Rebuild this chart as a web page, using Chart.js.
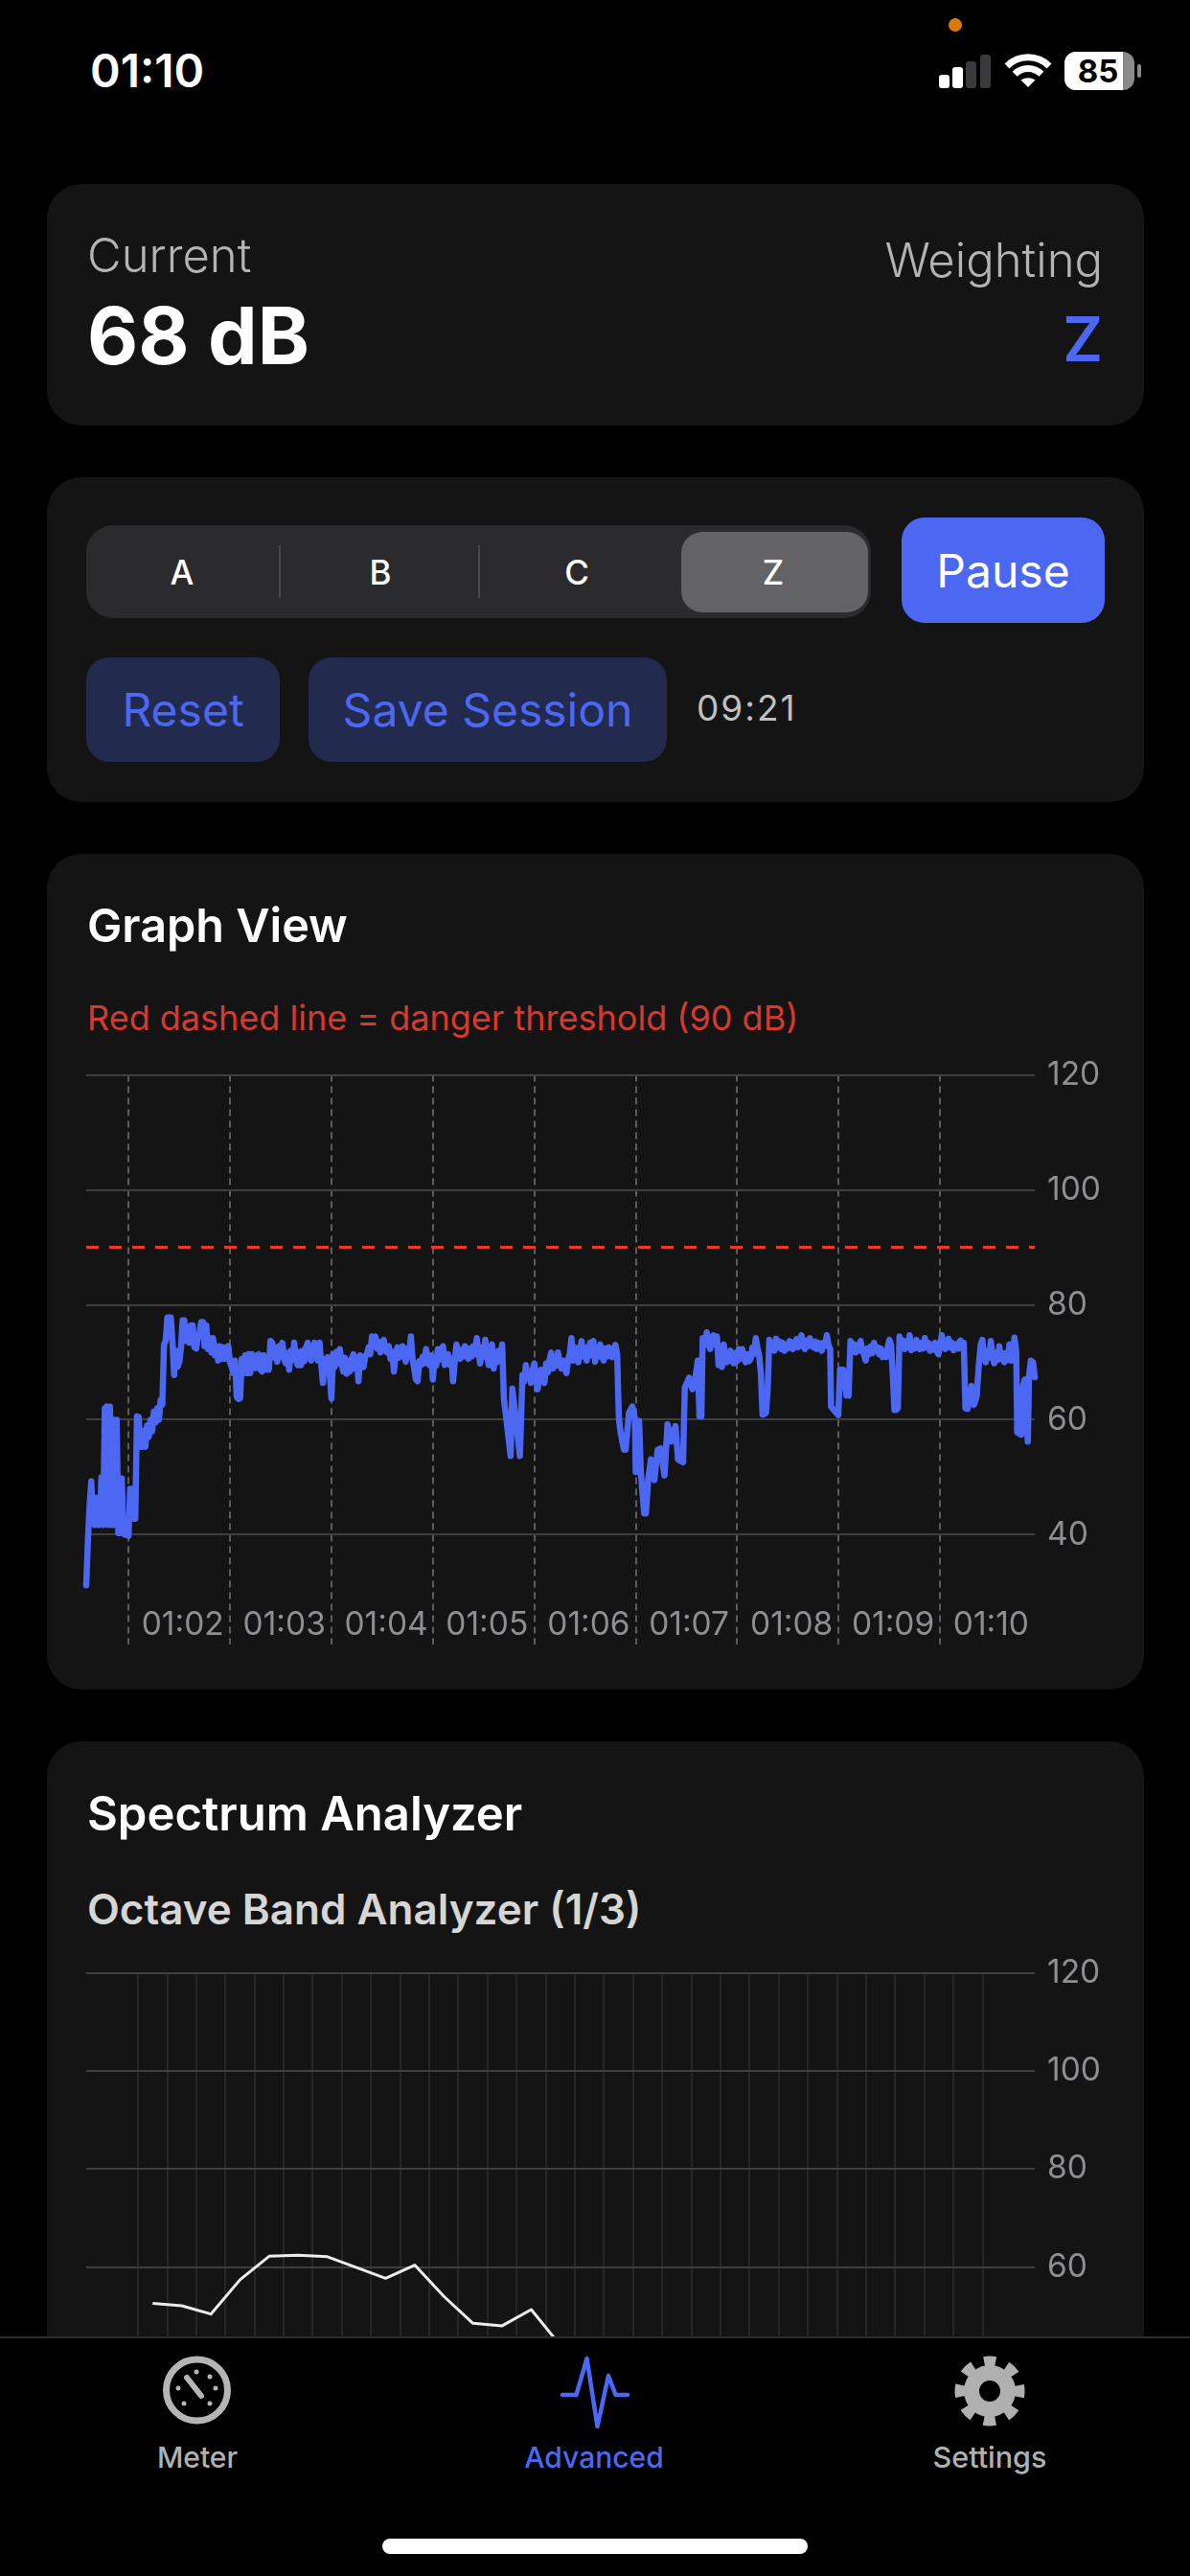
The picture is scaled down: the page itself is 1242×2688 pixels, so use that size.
<!DOCTYPE html>
<html>
<head>
<meta charset="utf-8">
<title>Advanced</title>
<script src="https://cdn.jsdelivr.net/npm/chart.js@4"></script>
<style>
  html, body { margin: 0; padding: 0; background: #000; }
  body { position: relative; width: 1242px; height: 2688px; overflow: hidden; font-family: Inter, "Noto Sans", sans-serif; color: #fff; }
  .card { position: absolute; left: 49px; width: 1145px; background: #141414; border-radius: 36px; }
  .box { position: absolute; }
  .txt { position: absolute; white-space: nowrap; line-height: 60px; height: 60px; }
  .btn { position: absolute; display: flex; align-items: center; justify-content: center; }
  .chart-wrap { position: absolute; left: 49px; width: 1145px; }
  #tabbar { position: absolute; left: 0; top: 2438px; width: 1242px; height: 250px; background: #000; border-top: 2px solid #2c2c2e; box-sizing: border-box; }
  #icons { position: absolute; left: 0; top: 0; }
</style>
</head>
<body>

<!-- cards -->
<div class="card" style="top:192px;height:252px"></div>
<div class="card" style="top:498px;height:339px"></div>
<div class="card" style="top:891px;height:872px"></div>
<div class="card" style="top:1817px;height:900px"></div>

<!-- status bar -->
<div class="txt" style="left:94px;top:44px;font-size:48px;font-weight:600">01:10</div>
<div class="box" style="left:1111px;top:54px;width:73px;height:40px;border-radius:12px;background:#8a8a8a"></div>
<div class="box" style="left:1111px;top:54px;width:61px;height:40px;border-radius:12px 0 0 12px;background:#fff"></div>
<div class="txt" style="left:1111px;top:44px;width:70px;text-align:center;font-size:33px;font-weight:700;color:#000">85</div>

<!-- current level -->
<div class="txt" style="left:91px;top:237px;font-size:49px;font-weight:300;color:#b4b4b4">Current</div>
<div class="txt" style="left:91px;top:321px;font-size:82px;font-weight:700">68 dB</div>
<div class="txt" style="right:91px;top:242px;font-size:49px;font-weight:300;color:#b4b4b4">Weighting</div>
<div class="txt" style="right:91px;top:324px;font-size:64px;font-weight:600;color:#4c68f3">Z</div>

<!-- controls -->
<div class="box" style="left:90px;top:548px;width:819px;height:97px;border-radius:28px;background:#2b2b2d"></div>
<div class="box" style="left:711px;top:555px;width:195px;height:84px;border-radius:22px;background:#636366"></div>
<div class="box" style="left:291px;top:569px;width:2px;height:55px;background:#48484a"></div>
<div class="box" style="left:499px;top:569px;width:2px;height:55px;background:#48484a"></div>
<div class="txt" style="left:140px;width:100px;top:567px;text-align:center;font-size:35px;font-weight:500">A</div>
<div class="txt" style="left:347px;width:100px;top:567px;text-align:center;font-size:35px;font-weight:500">B</div>
<div class="txt" style="left:552px;width:100px;top:567px;text-align:center;font-size:35px;font-weight:500">C</div>
<div class="txt" style="left:757px;width:100px;top:567px;text-align:center;font-size:35px;font-weight:500">Z</div>
<div class="btn" style="left:941px;top:540px;width:212px;height:110px;border-radius:24px;background:#4c68f3;font-size:48px">Pause</div>
<div class="btn" style="left:90px;top:686px;width:202px;height:109px;border-radius:24px;background:#222a4e;color:#4c68f3;font-size:48px">Reset</div>
<div class="btn" style="left:322px;top:686px;width:374px;height:109px;border-radius:24px;background:#222a4e;color:#4c68f3;font-size:48px">Save Session</div>
<div class="txt" style="left:727px;top:709px;font-size:37px;letter-spacing:2px;color:#c0c0c0">09:21</div>

<!-- graph view -->
<div class="txt" style="left:91px;top:936px;font-size:48.5px;font-weight:600">Graph View</div>
<div class="txt" style="left:91px;top:1032px;font-size:36px;color:#d8392f">Red dashed line = danger threshold (90 dB)</div>
<div class="chart-wrap" style="top:1100px;height:640px"><canvas id="graphChart"></canvas></div>

<!-- spectrum -->
<div class="txt" style="left:91px;top:1863px;font-size:49px;font-weight:600">Spectrum Analyzer</div>
<div class="txt" style="left:91px;top:1962px;font-size:44px;font-weight:600;color:#d6d6d6">Octave Band Analyzer (1/3)</div>
<div class="chart-wrap" style="top:2030px;height:560px"><canvas id="spectrumChart"></canvas></div>

<!-- tab bar -->
<div id="tabbar"></div>
<div class="txt" style="left:56px;width:300px;top:2534px;text-align:center;font-size:30px;font-weight:500;color:#b0b0b0">Meter</div>
<div class="txt" style="left:470px;width:300px;top:2534px;text-align:center;font-size:30px;font-weight:500;color:#4c68f3">Advanced</div>
<div class="txt" style="left:883px;width:300px;top:2534px;text-align:center;font-size:30.5px;font-weight:500;color:#b0b0b0">Settings</div>
<div class="box" style="left:399px;top:2649px;width:444px;height:16px;border-radius:8px;background:#fff"></div>

<svg id="icons" width="1242" height="2688">
  <!-- status icons -->
  <circle cx="997" cy="26" r="7" fill="#d97a0a"/>
  <rect x="980" y="78" width="11" height="14" rx="3" fill="#fff"/>
  <rect x="994" y="70" width="11" height="22" rx="3" fill="#fff"/>
  <rect x="1008" y="64" width="11" height="28" rx="3" fill="#3a3a3c"/>
  <rect x="1023" y="57" width="11" height="35" rx="3" fill="#3a3a3c"/>
  <path d="M1051 69 A31 31 0 0 1 1095 69" fill="none" stroke="#fff" stroke-width="7"/>
  <path d="M1059.2 77.2 A19.5 19.5 0 0 1 1086.8 77.2" fill="none" stroke="#fff" stroke-width="7"/>
  <path d="M1073 91 L1065.5 83.5 Q1073 79 1080.5 83.5 Z" fill="#fff"/>
  <rect x="1187" y="67" width="4" height="14" rx="2" fill="#8a8a8a"/>
  <!-- meter icon -->
  <circle cx="205.5" cy="2494" r="32" fill="none" stroke="#b5b5b5" stroke-width="7"/>
  <path d="M195 2481 L210 2500" stroke="#b5b5b5" stroke-width="6" stroke-linecap="round"/>
  <g fill="#b5b5b5">
    <circle cx="192" cy="2508" r="2.5"/><circle cx="219" cy="2508" r="2.5"/>
    <circle cx="186" cy="2492" r="2.5"/><circle cx="225" cy="2492" r="2.5"/>
    <circle cx="205" cy="2475" r="2.5"/><circle cx="219" cy="2480" r="2.5"/>
  </g>
  <!-- advanced icon -->
  <path d="M587 2499 L601.5 2499 L612.5 2461 L623.5 2532 L635 2479 L642.5 2499 L655 2499" fill="none" stroke="#4c68f3" stroke-width="4.5" stroke-linejoin="round" stroke-linecap="round"/>
  <!-- settings icon -->
  <circle cx="1033" cy="2495" r="30" fill="none" stroke="#b0b0b0" stroke-width="13" stroke-dasharray="11.8 11.76" stroke-dashoffset="5.9" transform="rotate(-90 1033 2495)"/>
  <circle cx="1033" cy="2495" r="19" fill="none" stroke="#b0b0b0" stroke-width="16"/>
</svg>

<script>
// Graph View: seconds since session start (09:21 long) and level in dB
const sampleSeconds = [
  0,1,2,3,4,5,6,7,8,9,
  10,11,12,13,14,15,16,17,18,19,
  20,21,22,23,24,25,26,27,28,29,
  30,31,32,33,34,35,36,37,38,39,
  40,41,42,43,44,45,46,47,48,49,
  50,51,52,53,54,55,56,57,58,59,
  60,61,62,63,64,65,66,67,68,69,
  70,71,72,73,74,75,76,77,78,79,
  80,81,82,83,84,85,86,87,88,89,
  90,91,92,93,94,95,96,97,98,99,
  100,101,102,103,104,105,106,107,108,109,
  110,111,112,113,114,115,116,117,118,119,
  120,121,122,123,124,125,126,127,128,129,
  130,131,132,133,134,135,136,137,138,139,
  140,141,142,143,144,145,146,147,148,149,
  150,151,152,153,154,155,156,157,158,159,
  160,161,162,163,164,165,166,167,168,169,
  170,171,172,173,174,175,176,177,178,179,
  180,181,182,183,184,185,186,187,188,189,
  190,191,192,193,194,195,196,197,198,199,
  200,201,202,203,204,205,206,207,208,209,
  210,211,212,213,214,215,216,217,218,219,
  220,221,222,223,224,225,226,227,228,229,
  230,231,232,233,234,235,236,237,238,239,
  240,241,242,243,244,245,246,247,248.4,251,
  252,254,256.5,258,259,260,261,262,263,264,
  265,266,267,268,269,270,271,272,273,274,
  275,276,277,278,279,280,281,282,283,284,
  285,286,287,288,289,290,291,292,293,294,
  295,296,297,298,299,300,301,302,303,304,
  305,306,307,308,309,310,311,312,313,314,
  315,316,318,319,
  321,323,324.5,325,327,328,330,331,332.4,334,
  336,338,339.6,342,343.8,346,348.5,350,353,354,
  356.6,358.5,360.4,361.7,362.7,363.8,364.6,
  366,367,368,369,370,371,372,373,374,375,
  376,377,378,379,380,381,382,383,384,385,
  386,387,388,389,390,391,392,393,394,395,
  396,397,398,399,400,401,402,403,404,405,
  406,407,408,409,410,411,412,413,414,415,
  416,417,418,419,420,421,422,423,424,425,
  426,427,428,429,430,431,432,433,434,435,
  436,437,438,439,440,
  440.5,443,444.8,445.8,447.7,449.6,450.9,
  452,453,454,455,456,457,458,459,460,461,
  462,463,464,465,466,467,468,469,470,471,
  472,473,474,475,476,477,478,479,480,481,
  482,483,484,485,486,487,488,489,490,491,
  492,493,494,495,496,497,498,499,500,501,
  502,503,504,505,506,507,508,509,510,511,
  512,513,514,515,516,517,518,519,
  520,521.3,523.6,525,526.6,
  528,529,530,531,532,533,534,535,536,537,
  538,539,540,541,542,543,544,545,546,547,
  548,549,550,
  550.6,553,553.5,555,556.9,557.6,558.7,560,561
];
const levelDb = [
  31.2,39,45,49.3,42,41.7,46.4,41.7,41.7,50,
  41.7,62,62.3,41.7,62.3,41.7,60,41.7,60,40.3,
  40.3,49.8,40.2,40,40,39.8,48,48,42.8,42.8,
  60.6,60.5,55.3,55.3,58.1,55.3,59,57,60,58,
  61.4,59.5,62,60,63.4,62.6,73.1,73.7,77.8,77.8,
  77.8,73.7,67.8,72,69.2,70,72.3,77.3,77.3,73.7,
  76.2,73.4,76.4,76.4,72.6,72.4,74.2,75,77,77,
  72.8,76.4,72.3,74.2,71.7,74.2,71.2,72.8,70.3,72.8,
  70.6,72.6,70.6,72.6,72.8,70,69.2,68.1,70.3,64,
  63.6,63.7,70.6,68.1,71.2,68.1,71.4,68.1,71.4,69.5,
  69,71.2,71.4,68.7,68.4,71.2,68.7,70.9,68.7,73.7,
  73.4,70.8,72.6,70.1,72.8,71,73.4,70.6,69.8,71.6,
  68.7,72,70.4,73.4,70.6,69.5,71.8,69.5,72,70.2,
  72.6,73.4,71,70.3,72.4,73.4,71,70.3,73.4,69.6,
  66.4,70.6,68.6,70.9,68,63.7,71.4,69.2,71.8,69.8,
  72.3,70,68.4,70.8,68,70.2,68.4,70.6,71.4,68.9,
  70.8,66.7,71.2,69.6,69.2,71,71.4,72.6,71.4,74.5,
  72.8,74.5,72.4,73.6,71.7,72.6,73.9,72,71.7,72.8,
  70.6,71.8,68.4,71.4,72.6,70.8,71.6,72.8,71.4,70.1,
  72.4,71.2,74.5,70.6,68.8,67,66.7,70.2,69.5,71,
  69.8,72.3,70.4,69.5,71.2,67,70.6,69.4,72.3,70.4,
  71.8,72.8,69.5,71,71.4,69.6,70.6,66.7,70.4,73.1,
  71.2,70.6,72.2,71,72.8,71.2,70.6,72.4,71,72.8,
  71.4,74.2,71.8,69.8,72.6,71,73.9,71.2,69.5,72,
  73.1,68.9,71.6,70,72,70.6,73.1,63.7,60.3,53.7,
  65.4,60.3,53.7,67.8,66.6,69.5,67.4,68.4,66.4,68.6,
  69.8,67.4,65.3,67.6,68.7,66.8,66.4,69.8,68.2,70.4,
  71.7,68.9,70.8,69.4,71.7,70,68.9,70.3,69.2,68.1,
  70.4,71.6,74.2,70.3,72.6,71,70,72.4,73.7,71,
  72.6,70.3,72,73.4,71.2,73.7,70.1,72.4,71,73.1,
  71.2,70.3,72.4,71,72.6,71.2,70.9,72.4,73,71.4,
  60.3,57.8,54.8,54.8,
  61.2,62.3,60.3,50.9,59.8,50.9,43.7,43.7,49.8,53.1,
  49.5,54.8,55,50.3,59.2,56.2,58.9,53.1,52.6,65.6,
  67.3,65.3,67.6,70.3,60.6,60.6,74.2,
  73,75.2,73.6,72.3,74,74.7,73,74.5,69.5,71.4,
  69.2,73.1,71,70,71.4,72,70.4,69.8,71.6,70.2,
  72.3,70.6,72.3,71,70,71.4,70.2,70.6,72.6,71.4,
  74.2,72.4,71.2,68,60.9,61,61.2,65,73.9,72.4,
  73,72,74.1,72.6,73.6,72.3,73.4,72,73,72.4,
  73.7,72.6,72.3,73.4,74,72.6,73.8,74.7,73,72.3,
  73.8,72.8,74.2,73,72.6,73.6,72.3,73.4,72.4,72,
  73.4,72.8,74.7,73,72.3,
  62.3,61.4,60.8,68.7,68.7,64.2,64.2,
  73.7,72,73.2,71.7,73,72,73.7,72,71.4,70.3,
  72.4,71.4,72.8,71.6,73.4,72,72.6,71.4,72.4,70.9,
  71.6,70.9,72.6,73.9,73.1,68,61.7,61.7,62,74.5,
  72.8,73.8,72.3,73.6,72.6,74.7,72.1,73.4,72.4,73.9,
  72.6,72.3,73.4,72.4,74.2,72.6,73.4,72,73,72.2,
  73.4,72,71.4,73,74.7,72.8,72.3,73.6,74.1,72.6,
  73.4,72.1,72.8,73.2,72.4,73.8,73,73.4,
  62,61.9,65.9,62.6,64,
  69.8,73,73.9,71,70,72,70.8,73.7,71,69.8,
  71.6,70.4,72.8,70.6,71.6,70,71.6,70.4,73.1,70.3,
  72,74.3,72,
  57.8,57.4,65.3,67,56.2,67.6,70.3,70,67.4
];
const thresholdSeconds = [0, 561];
const thresholdDb = [90, 90];
const timeTickSeconds = [25, 85, 145, 205, 265, 325, 385, 445, 505];
const timeTickLabels = ['01:02', '01:03', '01:04', '01:05', '01:06', '01:07', '01:08', '01:09', '01:10'];
const graphDbTicks = [40, 60, 80, 100, 120];

// Octave band: only the first bands are above the tab bar
const bandIndex = [0.5, 1.5, 2.5, 3.5, 4.5, 5.5, 6.5, 7.5, 8.5, 9.5, 10.5, 11.5, 12.5, 13.5, 14.5];
const bandDb = [52.6, 52.1, 50.4, 57.4, 62.2, 62.4, 62.1, 59.9, 57.7, 60.4, 54, 48.5, 48, 51.3, 44];
const bandGridLines = [0, 1, 2, 3, 4, 5, 6, 7, 8, 9, 10, 11, 12, 13, 14, 15, 16, 17, 18, 19, 20, 21, 22, 23, 24, 25, 26, 27, 28, 29];
const spectrumDbTicks = [20, 40, 60, 80, 100, 120];

const tickFont = { family: 'Inter', size: 33.5 };
const tickColor = '#8e8e93';

const toPoints = (xs, ys) => xs.map((x, i) => ({ x: x, y: ys[i] }));
const useTicks = values => scale => { scale.ticks = values.map(v => ({ value: v })); };
// scales reserve room for half a label at each end, which would move the plot area
const clearPadding = scale => {
  scale.paddingTop = 0;
  scale.paddingBottom = 0;
  scale.paddingLeft = 0;
  scale.paddingRight = 0;
};

new Chart(document.getElementById('graphChart'), {
  type: 'line',
  data: {
    datasets: [
      {
        data: toPoints(sampleSeconds, levelDb),
        borderColor: '#4c68f3',
        borderWidth: 6.5,
        borderJoinStyle: 'round',
        borderCapStyle: 'round',
        pointRadius: 0,
        tension: 0,
        clip: false
      },
      {
        data: toPoints(thresholdSeconds, thresholdDb),
        borderColor: '#e8392e',
        borderWidth: 3,
        borderDash: [13, 11],
        pointRadius: 0
      }
    ]
  },
  options: {
    responsive: true,
    maintainAspectRatio: false,
    animation: false,
    events: [],
    layout: { padding: { left: 41, top: 21.6, right: 0, bottom: 0 } },
    plugins: { legend: { display: false }, tooltip: { enabled: false } },
    scales: {
      x: {
        type: 'linear',
        min: 0,
        max: 561,
        afterBuildTicks: useTicks(timeTickSeconds),
        afterFit: scale => { scale.height = 24; clearPadding(scale); },
        grid: { color: '#5c5c5c', lineWidth: 2, drawTicks: false },
        border: { display: false, dash: [7, 5] },
        ticks: {
          autoSkip: false,
          maxRotation: 0,
          minRotation: 0,
          align: 'start',
          labelOffset: 13.6,
          mirror: true,
          padding: 0,
          color: tickColor,
          font: tickFont,
          callback: value => timeTickLabels[timeTickSeconds.indexOf(value)]
        }
      },
      y: {
        position: 'right',
        min: 20.9,
        max: 120,
        afterBuildTicks: useTicks(graphDbTicks),
        afterFit: scale => { scale.width = 114; clearPadding(scale); },
        grid: { color: '#3e3e3e', lineWidth: 2, drawTicks: false },
        border: { display: false },
        ticks: { padding: 13, color: tickColor, font: tickFont }
      }
    }
  }
});

new Chart(document.getElementById('spectrumChart'), {
  type: 'line',
  data: {
    datasets: [{
      data: toPoints(bandIndex, bandDb),
      borderColor: '#ececec',
      borderWidth: 3,
      borderJoinStyle: 'round',
      pointRadius: 0,
      tension: 0
    }]
  },
  options: {
    responsive: true,
    maintainAspectRatio: false,
    animation: false,
    events: [],
    layout: { padding: { left: 41, top: 29, right: 0, bottom: 20 } },
    plugins: { legend: { display: false }, tooltip: { enabled: false } },
    scales: {
      x: {
        type: 'linear',
        min: -1.78,
        max: 30.79,
        afterBuildTicks: useTicks(bandGridLines),
        afterFit: scale => { scale.height = 0; clearPadding(scale); },
        grid: { color: '#262626', lineWidth: 2, drawTicks: false },
        border: { display: false },
        ticks: { display: false }
      },
      y: {
        position: 'right',
        min: 20,
        max: 120,
        afterBuildTicks: useTicks(spectrumDbTicks),
        afterFit: scale => { scale.width = 114; clearPadding(scale); },
        grid: { color: '#3e3e3e', lineWidth: 2, drawTicks: false },
        border: { display: false },
        ticks: { padding: 13, color: tickColor, font: tickFont }
      }
    }
  }
});
</script>
</body>
</html>
